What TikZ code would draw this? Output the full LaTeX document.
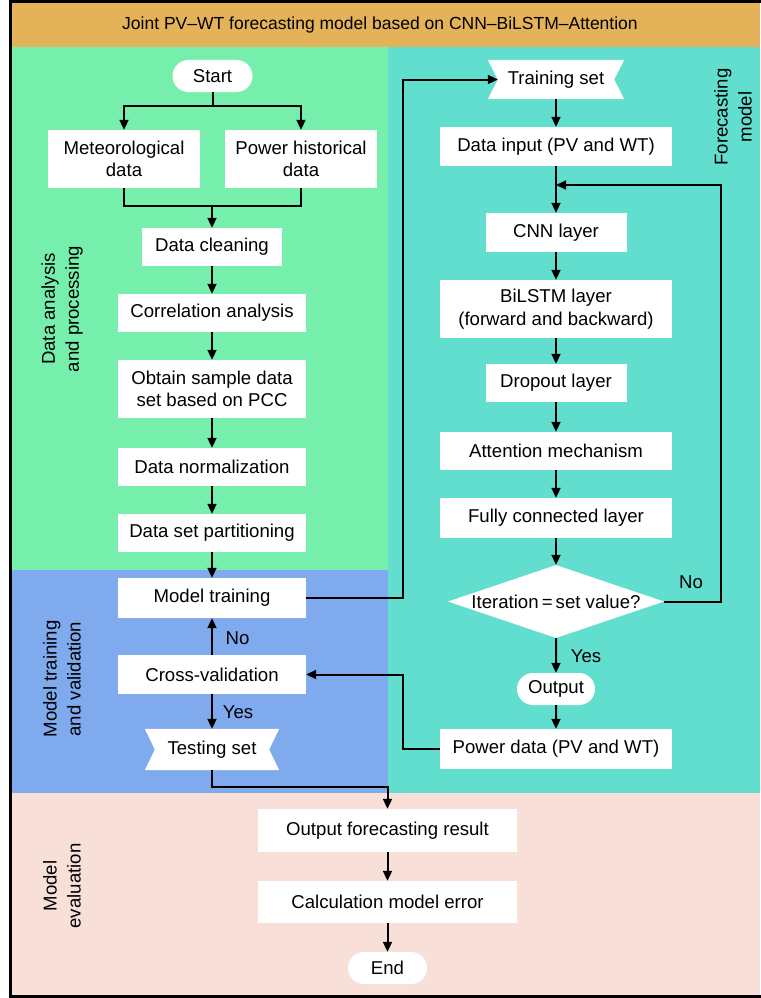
\documentclass[tikz,border=0pt]{standalone}
\usepackage{fontspec}
\setmainfont{Liberation Sans}
\usetikzlibrary{arrows.meta,shapes.geometric,shapes.misc,calc}
\definecolor{titlebg}{RGB}{228,178,88}
\definecolor{greenbg}{RGB}{118,238,172}
\definecolor{tealbg}{RGB}{98,222,206}
\definecolor{bluebg}{RGB}{128,170,238}
\definecolor{pinkbg}{RGB}{248,223,215}
\pgfdeclarelayer{back}
\pgfdeclarelayer{ribbonlayer}
\pgfsetlayers{back,ribbonlayer,main}
\begin{document}
\begin{tikzpicture}[x=1pt,y=-1pt,
  font=\fontsize{18.6}{22.5}\selectfont,
  box/.style={fill=white, inner sep=0pt, align=center},
  pill/.style={rounded rectangle, fill=white, inner sep=0pt, minimum height=32},
  ribbonnode/.style={inner sep=0pt, minimum height=40},
  decision/.style={diamond, fill=white, inner sep=0pt, minimum width=216, minimum height=73},
  sidelabel/.style={rotate=90, align=center, font=\fontsize{18.6}{24}\selectfont},
  ln/.style={line width=2pt},
  arr/.style={line width=2pt, -{Triangle[length=10pt,width=9pt]}}
]
\useasboundingbox (0,0) rectangle (760,998);
% regions
\begin{pgfonlayer}{back}
\fill[white] (0,0) rectangle (760,998);
\fill[titlebg] (11,2) rectangle (760,47);
\fill[greenbg] (11,47) rectangle (388,570);
\fill[bluebg] (11,570) rectangle (388,793);
\fill[tealbg] (388,47) rectangle (760,793);
\fill[pinkbg] (11,793) rectangle (760,996);
\draw[line width=2.5pt] (762,1.5) -- (10.5,1.5) -- (10.5,996.5) -- (762,996.5);
\end{pgfonlayer}

\node[font=\fontsize{17.5}{21}\selectfont] (title) at (380,25) {Joint PV–WT forecasting model based on CNN–BiLSTM–Attention};

% side labels
\node[sidelabel] (lab1) at (62,309) {Data analysis\\and processing};
\node[sidelabel] (lab2) at (62,679) {Model training\\and validation};
\node[sidelabel] (lab3) at (62,886) {Model\\evaluation};
\node[sidelabel] (lab4) at (733,117) {Forecasting\\model};

% left column
\node[pill, minimum width=80] (start) at (212.5,76) {Start};
\node[box, minimum width=152, minimum height=58] (met) at (124,159) {Meteorological\\data};
\node[box, minimum width=152, minimum height=58] (pow) at (301,159) {Power historical\\data};
\node[box, minimum width=140, minimum height=38] (clean) at (212,247) {Data cleaning};
\node[box, minimum width=188, minimum height=38] (corr) at (212,313) {Correlation analysis};
\node[box, minimum width=188, minimum height=58] (pcc) at (212,389) {Obtain sample data\\set based on PCC};
\node[box, minimum width=188, minimum height=38] (norm) at (212,467) {Data normalization};
\node[box, minimum width=188, minimum height=38] (part) at (212,533) {Data set partitioning};
\node[box, minimum width=188, minimum height=40] (mtrain) at (212,598) {Model training};
\node[box, minimum width=188, minimum height=39] (cross) at (212,674.5) {Cross-validation};
\node[ribbonnode, minimum width=134, minimum height=41] (test) at (212,749.5) {Testing set};

% right column
\node[ribbonnode, minimum width=136, minimum height=39] (train) at (556,79.5) {Training set};
\node[box, minimum width=232, minimum height=39] (input) at (556,146.5) {Data input (PV and WT)};
\node[box, minimum width=141, minimum height=39] (cnn) at (556,232.5) {CNN layer};
\node[box, minimum width=232, minimum height=58] (bilstm) at (556,309) {BiLSTM layer\\(forward and backward)};
\node[box, minimum width=141, minimum height=38] (drop) at (556,383) {Dropout layer};
\node[box, minimum width=232, minimum height=38] (attn) at (556,451) {Attention mechanism};
\node[box, minimum width=232, minimum height=40] (fc) at (556,518) {Fully connected layer};
\node[decision] (dec) at (556,601.5) {\makebox[0pt]{Iteration\,=\,set value?}};
\node[pill, minimum width=78] (output) at (556,689) {Output};
\node[box, minimum width=232, minimum height=40] (power) at (556,749) {Power data (PV and WT)};

% bottom
\node[box, minimum width=259, minimum height=43] (outres) at (387.5,830.5) {Output forecasting result};
\node[box, minimum width=259, minimum height=42] (calc) at (387.5,902) {Calculation model error};
\node[pill, minimum width=79] (end) at (387.5,968) {End};

% ribbons
\begin{pgfonlayer}{ribbonlayer}
\foreach \r in {test,train}{
  \fill[white] (\r.north west) -- (\r.north east) -- ($(\r.east)+(-10,0)$) -- (\r.south east)
    -- (\r.south west) -- ($(\r.west)+(10,0)$) -- cycle;
}
\end{pgfonlayer}

% labels
\node (no1) at (237.5,638) {No};
\node (yes1) at (238,712) {Yes};
\node (no2) at (691,582) {No};
\node (yes2) at (586,656) {Yes};

% coordinates
\coordinate (split) at (212.5,106);
\coordinate (merge) at (212,206);
\coordinate (lnk1) at (403,79.5);
\coordinate (lnk2) at (403,674.5);
\coordinate (lnk3) at (212,787);
\coordinate (loopc) at (721,185);
\coordinate (join) at (556,185);

% connectors left
\draw[ln] (start.south) -- (split);
\draw[arr] (split) -| (met.north);
\draw[arr] (split) -| (pow.north);
\draw[ln] (met.south) |- (merge);
\draw[ln] (pow.south) |- (merge);
\draw[arr] (merge) -- (clean.north);
\draw[arr] (clean) -- (corr);
\draw[arr] (corr) -- (pcc);
\draw[arr] (pcc) -- (norm);
\draw[arr] (norm) -- (part);
\draw[arr] (part) -- (mtrain);
\draw[arr] (cross) -- (mtrain);
\draw[arr] (cross) -- (test);
\draw[arr] (mtrain.east) -| (lnk1) -- ($(train.west)+(10,0)$);
\draw[arr] (power.west) -| (lnk2) -- (cross.east);
\draw[arr] (test.south) -- (lnk3) -| (outres.north);

% connectors right
\draw[arr] (train) -- (input);
\draw[arr] (input) -- (cnn);
\draw[arr] (cnn) -- (bilstm);
\draw[arr] (bilstm) -- (drop);
\draw[arr] (drop) -- (attn);
\draw[arr] (attn) -- (fc);
\draw[arr] (fc) -- (dec);
\draw[arr] (dec) -- (output);
\draw[arr] (output) -- (power);
\draw[arr] (dec.east) -| (loopc) -- (join);

% bottom connectors
\draw[arr] (outres) -- (calc);
\draw[arr] (calc) -- (end);
\end{tikzpicture}
\end{document}
